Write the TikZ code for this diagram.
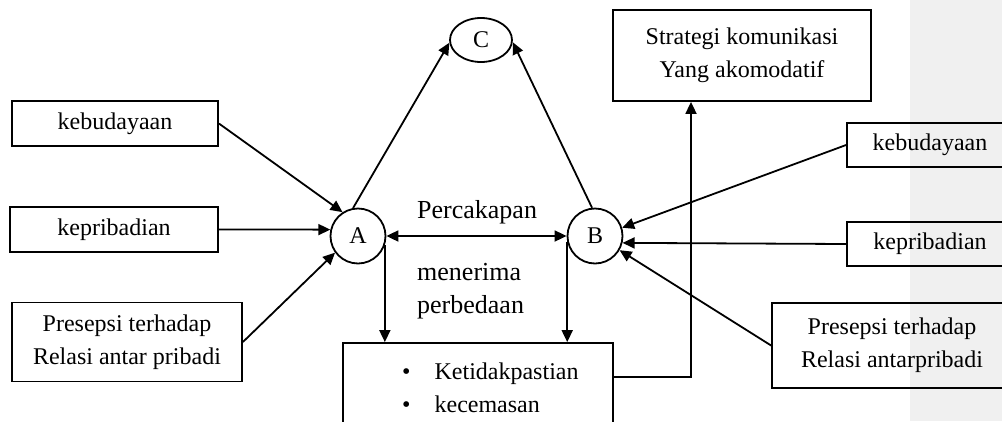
\documentclass[tikz,border=0pt]{standalone}
\usepackage{fontspec}
\setmainfont{Liberation Serif}
\usetikzlibrary{arrows.meta,shapes.geometric,calc}
\begin{document}
\begin{tikzpicture}[x=1pt,y=-1pt,
  every node/.style={font=\fontsize{24}{33}\selectfont},
  lbl/.style={anchor=base west, inner sep=0pt, font=\fontsize{26}{33}\selectfont},
  box/.style={draw, line width=1.8pt, inner sep=0pt, align=center},
  circ/.style={draw, circle, line width=1.8pt, minimum size=55pt, inner sep=0pt},
  arr/.style={line width=1.8pt, -{Triangle[length=12pt,width=11pt]}},
  darr/.style={line width=1.8pt, {Triangle[length=12pt,width=11pt]}-{Triangle[length=12pt,width=11pt]}}]
\clip (0,0) rectangle (1002,421);
\fill[black!6] (910,0) rectangle (1002,421);
% left boxes
\node[box, minimum width=206pt, minimum height=45pt] (kb1) at (115,123.5) {kebudayaan};
\node[box, minimum width=208pt, minimum height=45pt] (kp1) at (114,229.5) {kepribadian};
\node[box, minimum width=230pt, minimum height=79pt] (ps1) at (127,342) {Presepsi terhadap\\Relasi antar pribadi};
% circles
\node[circ] (A) at (358,236) {A};
\node[circ] (B) at (595,236) {B};
\node[draw, ellipse, line width=1.8pt, minimum width=62pt, minimum height=44pt, inner sep=0pt] (C) at (481,40) {C};
% right side
\node[box, minimum width=258pt, minimum height=91pt] (st) at (742,55.5) {Strategi komunikasi\\Yang akomodatif};
\node[box, minimum width=166pt, minimum height=44pt] (kb2) at (930,145) {kebudayaan};
\node[box, minimum width=166pt, minimum height=44pt] (kp2) at (930,244) {kepribadian};
\node[box, minimum width=240pt, minimum height=85pt] (ps2) at (892,345.5) {Presepsi terhadap\\Relasi antarpribadi};
% bottom box
\node[box, minimum width=270pt, minimum height=100pt] (bx) at (478,393) {};
\node[anchor=base west, inner sep=0pt] (ls) at (402,379) {\begin{tabular}[t]{@{}l@{\hspace{24pt}}l@{}}• & Ketidakpastian\\• & kecemasan\end{tabular}};
% labels
\node[lbl] (pc) at (417,218) {Percakapan};
\node[lbl, align=left] (mp) at (417,313) {menerima\\perbedaan};
% connectors
\draw[arr] (kb1.east) -- (A.123);
\draw[arr] (kp1.east) -- (A.167);
\draw[arr] (ps1.east) -- (A.216);
\draw[arr] (A.100) -- (C.185);
\draw[arr] (B.96) -- (C.356);
\draw[darr] (A.east) -- (B.west);
\draw[arr] (A.341) -- (A.341 |- bx.north);
\draw[arr] (B.192) -- (B.192 |- bx.north);
\draw[arr] (kb2.west) -- (B.17);
\draw[arr] (kp2.west) -- (B.346);
\draw[arr] (ps2.west) -- (B.330);
\coordinate (j) at ($(bx.north east)+(0,35)$);
\draw[arr] (j) -| ([xshift=-51pt]st.south);
\end{tikzpicture}
\end{document}
